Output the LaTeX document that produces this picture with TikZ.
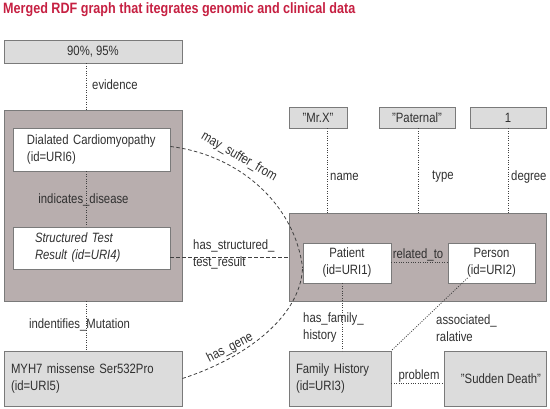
\documentclass[tikz,border=0pt]{standalone}
\usepackage{fontspec}
\setmainfont{Liberation Sans}[FakeStretch=0.84]
\usetikzlibrary{positioning}
\definecolor{titlered}{HTML}{C62042}
\definecolor{lgray}{HTML}{DCDCDC}
\definecolor{mauve}{HTML}{B8AEAE}
\definecolor{edgegray}{HTML}{7A7A7A}
\definecolor{txt}{HTML}{303030}
\definecolor{linegray}{HTML}{404040}
\tikzset{
  boxbase/.style={draw=edgegray, line width=0.8pt, inner sep=0pt, text=txt},
  graybox/.style={boxbase, fill=lgray},
  groupbox/.style={boxbase, fill=mauve},
  whitebox/.style={boxbase, fill=white},
  lbl/.style={inner sep=0pt, text=txt, align=left},
  dotline/.style={linegray, line width=0.8pt, dash pattern=on 1pt off 1.4pt},
  dashline/.style={linegray, line width=0.8pt, dash pattern=on 3.5pt off 2.5pt},
}
\begin{document}
\begin{tikzpicture}[x=1pt,y=-1pt,font=\fontsize{13.5}{17}\selectfont]
\useasboundingbox (0,0) rectangle (550,409);
\node[anchor=west, inner sep=0pt, text=titlered, font=\bfseries\fontsize{15}{17}\selectfont] (title) at (3,10) {Merged RDF graph that itegrates genomic and clinical data};

% left column
\node[graybox, minimum width=178, minimum height=23] (ev) at (93,51.5) {90\%, 95\%};
\node[groupbox, minimum width=178, minimum height=191] (bigL) at (93,205.5) {};
\node[whitebox, minimum width=157, minimum height=43, text width=129, inner xsep=14pt, align=left] (dcm) at (91.5,149.5) {Dialated Cardiomyopathy\\(id=URI6)};
\node[whitebox, minimum width=157, minimum height=42, text width=113, inner xsep=22pt, align=left, font=\fontsize{13.5}{17}\selectfont\itshape] (str) at (91.5,248) {Structured Test\\Result (id=URI4)};
\node[graybox, minimum width=178, minimum height=55, text width=164, inner xsep=7pt, align=left] (myh) at (93,378.5) {MYH7 missense Ser532Pro\\(id=URI5)};

% right part
\node[groupbox, minimum width=257, minimum height=88] (bigR) at (417.5,257) {};
\node[graybox, minimum width=58, minimum height=21] (mrx) at (318,117.5) {"Mr.X"};
\node[graybox, minimum width=76, minimum height=21] (pat) at (417,117.5) {"Paternal"};
\node[graybox, minimum width=76, minimum height=21] (one) at (508,117.5) {1};
\node[whitebox, minimum width=88, minimum height=40, align=center] (patient) at (347,263) {Patient\\(id=URI1)};
\node[whitebox, minimum width=87, minimum height=40, align=center] (person) at (491.5,263) {Person\\(id=URI2)};
\node[graybox, minimum width=102, minimum height=55, text width=88, inner xsep=7pt, align=left] (fh) at (340,378.5) {Family History\\(id=URI3)};
\node[graybox, minimum width=102, minimum height=55] (sd) at (495,378.5) {\hspace{12pt}"Sudden Death"};

% connectors
\draw[dotline] ([xshift=-7pt]ev.south) -- ([xshift=-7pt]bigL.north);
\draw[dotline] ([xshift=-5.5pt]dcm.south) -- ([xshift=-5.5pt]str.north);
\draw[dotline] ([xshift=-7pt]bigL.south) -- ([xshift=-7pt]myh.north);
\draw[dashline] (bigR.west -| str.east) -- (bigR.west);
\draw[dashline] ([yshift=3pt]dcm.east) .. controls (240,155) and (295,205) .. ([yshift=-5pt]patient.west);
\draw[dashline] (myh.east) .. controls (240,360) and (300,320) .. ([yshift=-5pt]patient.west);
\draw[dotline] ([xshift=9pt]mrx.south) -- ([xshift=9pt]mrx.south |- bigR.north);
\draw[dotline] ([xshift=1pt]pat.south) -- ([xshift=1pt]pat.south |- bigR.north);
\draw[dotline] (one.south) -- (one.south |- bigR.north);
\draw[dotline] ([yshift=1pt]patient.east) -- ([yshift=1pt]person.west);
\draw[dotline] ([xshift=-5pt]patient.south) -- ([xshift=-5pt]patient.south |- fh.north);
\draw[dotline] ([xshift=-24pt,yshift=-15pt]person.center) -- (fh.north east);
\draw[dotline] ([yshift=-5pt]fh.east) -- ([yshift=-5pt]fh.east -| sd.west);

% labels
\node[lbl, anchor=west] (l-ev) at (92,85) {evidence};
\node[lbl] (l-ind) at (83.5,200) {indicates\_disease};
\node[lbl] (l-mut) at (79.5,325) {indentifies\_Mutation};
\node[lbl, anchor=west] (l-hst) at (193,254.5) {has\_structured\_\\test\_result};
\node[lbl, rotate=-30] (l-may) at (239,157) {may\_suffer\_from};
\node[lbl, rotate=27] (l-gene) at (230,348) {has\_gene};
\node[lbl, anchor=west] (l-name) at (330,177) {name};
\node[lbl, anchor=west] (l-type) at (432,177) {type};
\node[lbl, anchor=west] (l-deg) at (511,177) {degree};
\node[lbl] (l-rel) at (418,255) {related\_to};
\node[lbl, anchor=west] (l-hfh) at (303,328) {has\_family\_\\history};
\node[lbl, anchor=west] (l-ass) at (436,328) {associated\_\\ralative};
\node[lbl] (l-prob) at (419,376) {problem};
\end{tikzpicture}
\end{document}
